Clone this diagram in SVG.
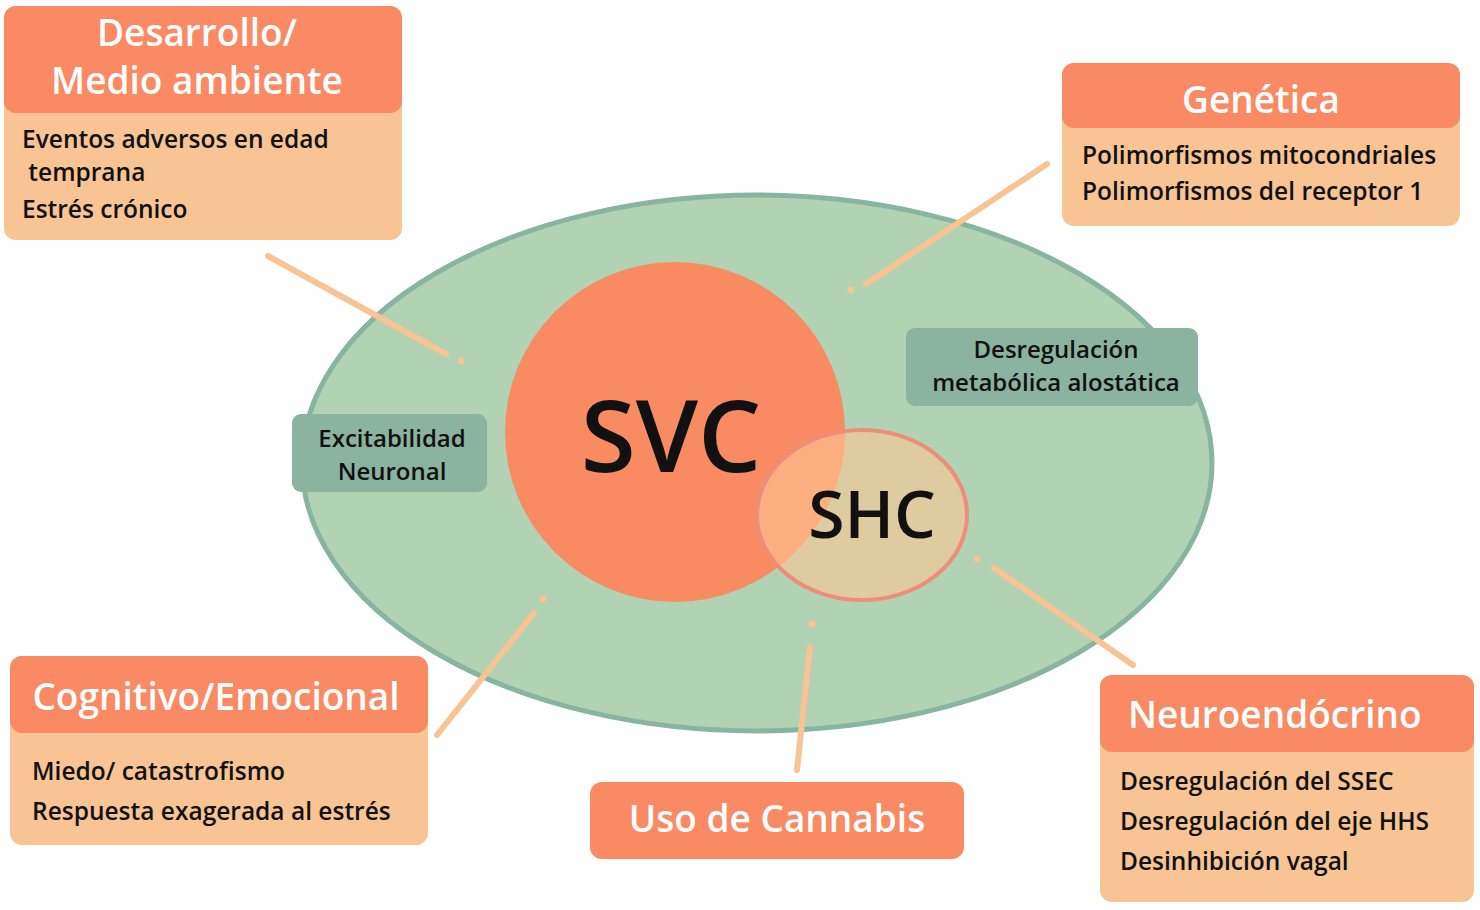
<svg xmlns="http://www.w3.org/2000/svg" width="1480" height="910" viewBox="0 0 1480 910">
<style>
.hdr{fill:#f98a63}
.body{fill:#f8c493}
.ttl{font-family:"Open Sans","Liberation Sans",sans-serif;fill:#ffffff;font-size:37px;font-weight:600}
.txt{font-family:"Open Sans","Liberation Sans",sans-serif;fill:#111111;font-size:24.5px;font-weight:600}
.glbl{fill:#8ab3a0}
.gtxt{font-family:"Open Sans","Liberation Sans",sans-serif;fill:#111111;font-size:24px;font-weight:600;text-anchor:middle}
.conn{stroke:#f8c493;stroke-width:6;stroke-linecap:round;fill:none}
.dot{fill:#f8c493}
</style>
<rect width="1480" height="910" fill="#ffffff"/>
<g id="main-ellipse">
<ellipse cx="757" cy="463" rx="455" ry="268" fill="#b1d2b3" stroke="#87b5a1" stroke-width="5"/>
</g>
<g id="svc">
<circle cx="675" cy="432" r="170" fill="#f98b63"/>
<text x="671" y="472" font-family="Open Sans, Liberation Sans, sans-serif" font-size="100" font-weight="600" text-anchor="middle" fill="#111111">SVC</text>
</g>
<g id="shc">
<ellipse cx="862" cy="515" rx="105" ry="85" fill="#fcc692" fill-opacity="0.6" stroke="#ee8d78" stroke-width="4"/>
<text x="872" y="538" font-family="Open Sans, Liberation Sans, sans-serif" font-size="66" font-weight="600" text-anchor="middle" fill="#111111">SHC</text>
</g>
<g id="excitabilidad">
<rect x="292" y="414" width="195" height="78" rx="9" class="glbl"/>
<text x="392" y="447" class="gtxt">Excitabilidad</text>
<text x="392" y="480" class="gtxt">Neuronal</text>
</g>
<g id="desregulacion">
<rect x="906" y="328" width="292" height="78" rx="9" class="glbl"/>
<text x="1056" y="358" class="gtxt">Desregulación</text>
<text x="1056" y="391" class="gtxt">metabólica alostática</text>
</g>
<g id="connectors">
<line x1="268" y1="256" x2="446" y2="354" class="conn"/>
<circle cx="461" cy="361" r="3.5" class="dot"/>
<line x1="1047" y1="164" x2="866" y2="284" class="conn"/>
<circle cx="851" cy="290" r="3.5" class="dot"/>
<line x1="437" y1="735" x2="534" y2="613" class="conn"/>
<circle cx="543" cy="599" r="3.5" class="dot"/>
<line x1="797" y1="770" x2="810" y2="647" class="conn"/>
<circle cx="812" cy="624" r="3.5" class="dot"/>
<line x1="1133" y1="665" x2="994" y2="568" class="conn"/>
<circle cx="977" cy="559" r="3.5" class="dot"/>
</g>
<g id="desarrollo">
<rect x="4" y="6" width="398" height="234" rx="12" class="body"/>
<rect x="4" y="6" width="398" height="107" rx="12" class="hdr"/>
<text x="197" y="46" class="ttl" text-anchor="middle">Desarrollo/</text>
<text x="197" y="94" class="ttl" text-anchor="middle">Medio ambiente</text>
<text x="22" y="148" class="txt">Eventos adversos en edad</text>
<text x="22" y="181" class="txt" xml:space="preserve"> temprana</text>
<text x="22" y="218" class="txt">Estrés crónico</text>
</g>
<g id="genetica">
<rect x="1062" y="63" width="398" height="163" rx="12" class="body"/>
<rect x="1062" y="63" width="398" height="65" rx="12" class="hdr"/>
<text x="1261" y="113" class="ttl" text-anchor="middle">Genética</text>
<text x="1082" y="164" class="txt">Polimorfismos mitocondriales</text>
<text x="1082" y="200" class="txt">Polimorfismos del receptor 1</text>
</g>
<g id="cognitivo">
<rect x="10" y="656" width="418" height="189" rx="12" class="body"/>
<rect x="10" y="656" width="418" height="77" rx="12" class="hdr"/>
<text x="216" y="710" class="ttl" text-anchor="middle">Cognitivo/Emocional</text>
<text x="32" y="780" class="txt">Miedo/ catastrofismo</text>
<text x="32" y="820" class="txt">Respuesta exagerada al estrés</text>
</g>
<g id="cannabis">
<rect x="590" y="782" width="374" height="77" rx="12" class="hdr"/>
<text x="777" y="832" class="ttl" text-anchor="middle">Uso de Cannabis</text>
</g>
<g id="neuroendocrino">
<rect x="1100" y="675" width="374" height="227" rx="12" class="body"/>
<rect x="1100" y="675" width="374" height="77" rx="12" class="hdr"/>
<text x="1128" y="728" class="ttl">Neuroendócrino</text>
<text x="1120" y="790" class="txt">Desregulación del SSEC</text>
<text x="1120" y="830" class="txt">Desregulación del eje HHS</text>
<text x="1120" y="870" class="txt">Desinhibición vagal</text>
</g>
</svg>
